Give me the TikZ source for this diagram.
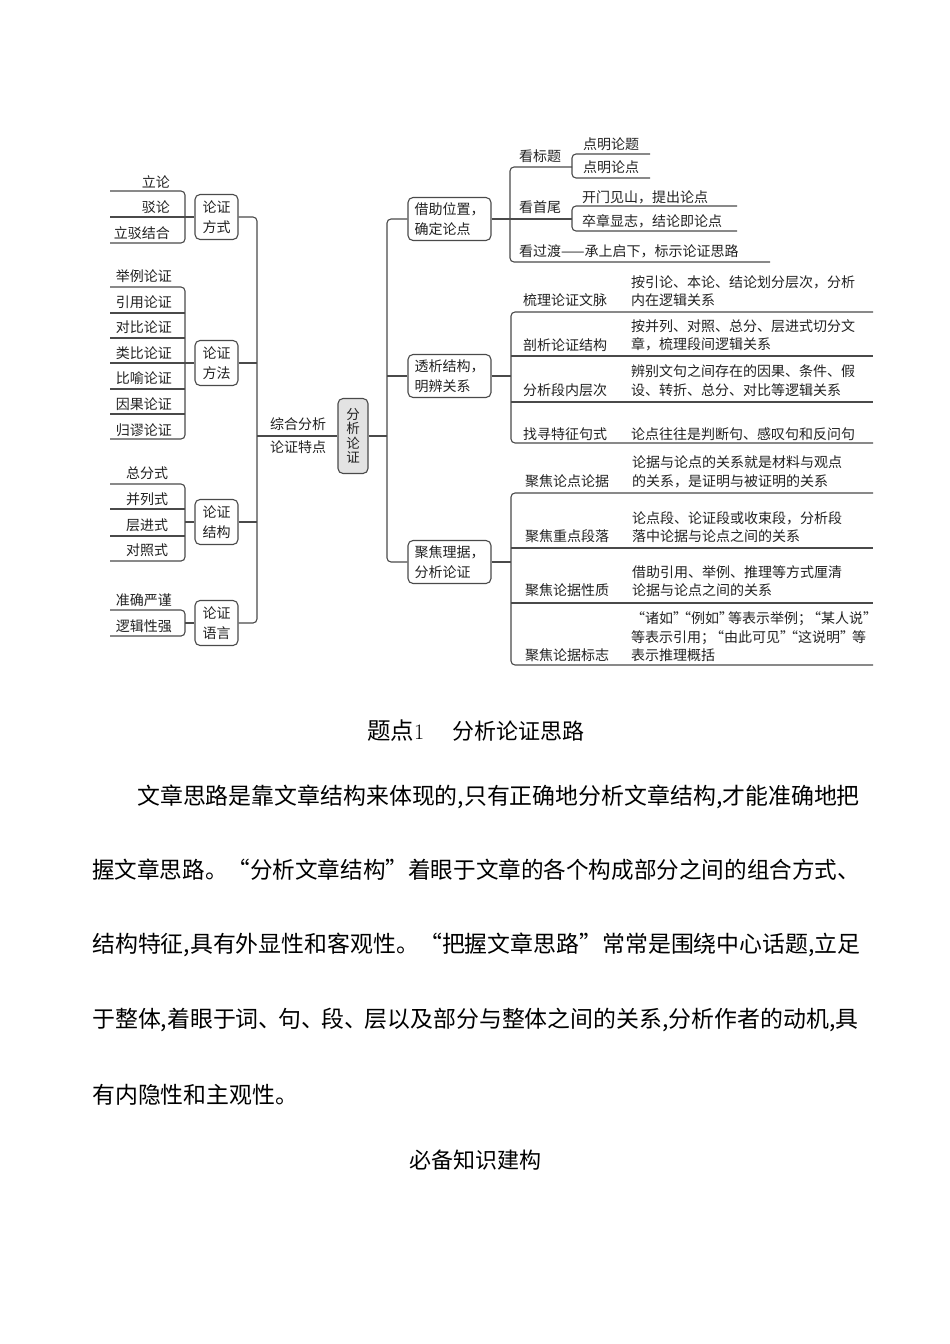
\documentclass[tikz,border=0pt]{standalone}
\usepackage{fontspec}
\usepackage{graphicx}
\newfontfamily\cjk{Noto Sans CJK SC}
\definecolor{lnc}{HTML}{4A4A4A}
\definecolor{txc}{HTML}{222222}
\newcommand\qqL{\makebox[9pt][r]{“}}
\newcommand\qqR{\makebox[9pt][l]{”}}
\newcommand\dunhao{\makebox[20pt][l]{、}}
\tikzset{
  ln/.style={line width=1.1pt, draw=lnc, rounded corners=4pt},
  t/.style={font=\cjk\fontsize{14}{18.6}\selectfont, inner sep=0pt, text=txc, align=left},
  lbox/.style={draw=lnc, line width=1.1pt, rounded corners=5pt, minimum width=43pt, minimum height=45pt, inner sep=0pt, align=center, text=txc, font=\cjk\fontsize{14}{20}\selectfont},
  rbox/.style={draw=lnc, line width=1.1pt, rounded corners=5pt, minimum width=83pt, minimum height=43pt, inner sep=0pt, align=left, text=txc, font=\cjk\fontsize{14}{20}\selectfont},
  body/.style={font=\cjk\fontsize{22.9}{23}\selectfont, inner sep=0pt, anchor=west, text=black},
}
\begin{document}
\begin{tikzpicture}[x=1pt,y=-1pt]
\useasboundingbox[fill=white] (0,0) rectangle (950,1344);

% ---------------- left boxes ----------------
\node[lbox] (A) at (216.5,217) {论证\\方式};
\node[lbox] (B) at (216.5,363) {论证\\方法};
\node[lbox] (C) at (216.5,522) {论证\\结构};
\node[lbox] (D) at (216.5,623) {论证\\语言};

% leaves group A
\node[t,anchor=east] (a1) at (170,182) {立论};
\node[t,anchor=east] (a2) at (170,207) {驳论};
\node[t,anchor=east] (a3) at (170,233) {立驳结合};
\coordinate (a1L) at (110,191); \coordinate (a1R) at (185,191);
\coordinate (a2L) at (110,217);
\coordinate (a3L) at (110,243); \coordinate (a3R) at (185,243);
\draw[ln] (a1L) -- (a1R) -- (a3R) -- (a3L);
\draw[ln] (a2L) -- (A);

% leaves group B
\node[t,anchor=east] (b1) at (172,276) {举例论证};
\node[t,anchor=east] (b2) at (172,302) {引用论证};
\node[t,anchor=east] (b3) at (172,327) {对比论证};
\node[t,anchor=east] (b4) at (172,353) {类比论证};
\node[t,anchor=east] (b5) at (172,378) {比喻论证};
\node[t,anchor=east] (b6) at (172,404) {因果论证};
\node[t,anchor=east] (b7) at (172,430) {归谬论证};
\coordinate (b1L) at (110,287); \coordinate (b1R) at (185,287);
\coordinate (b2L) at (110,313); \coordinate (b2R) at (185,313);
\coordinate (b3L) at (110,338); \coordinate (b3R) at (185,338);
\coordinate (b4L) at (110,363);
\coordinate (b5L) at (110,389); \coordinate (b5R) at (185,389);
\coordinate (b6L) at (110,414); \coordinate (b6R) at (185,414);
\coordinate (b7L) at (110,439); \coordinate (b7R) at (185,439);
\draw[ln] (b1L) -- (b1R) -- (b7R) -- (b7L);
\draw[ln] (b2L) -- (b2R);
\draw[ln] (b3L) -- (b3R);
\draw[ln] (b5L) -- (b5R);
\draw[ln] (b6L) -- (b6R);
\draw[ln] (b4L) -- (B);

% leaves group C
\node[t] (c1) at (147,473) {总分式};
\node[t] (c2) at (147,499) {并列式};
\node[t] (c3) at (147,525) {层进式};
\node[t] (c4) at (147,550) {对照式};
\coordinate (c1L) at (110,484); \coordinate (c1R) at (185,484);
\coordinate (c2L) at (110,509); \coordinate (c2R) at (185,509);
\coordinate (c3L) at (110,536); \coordinate (c3R) at (185,536);
\coordinate (c4L) at (110,561); \coordinate (c4R) at (185,561);
\coordinate (cM) at (185,522);
\draw[ln] (c1L) -- (c1R) -- (c4R) -- (c4L);
\draw[ln] (c2L) -- (c2R);
\draw[ln] (c3L) -- (c3R);
\draw[ln] (cM) -- (C);

% leaves group D
\node[t,anchor=east] (d1) at (172,600) {准确严谨};
\node[t,anchor=east] (d2) at (172,626) {逻辑性强};
\coordinate (d1L) at (110,610); \coordinate (d1R) at (185,610);
\coordinate (d2L) at (110,636); \coordinate (d2R) at (185,636);
\coordinate (dM) at (185,623);
\draw[ln] (d1L) -- (d1R) -- (d2R) -- (d2L);
\draw[ln] (dM) -- (D);

% ---------------- centre ----------------
\node[draw=lnc, fill=black!11, line width=1.1pt, rounded corners=5pt, minimum width=30pt, minimum height=75pt, inner sep=0pt, align=center, text=txc, font=\cjk\fontsize{13.5}{14.5}\selectfont] (M) at (353,436) {分\\析\\论\\证};
\node[t] (m1) at (298,424) {综合分析};
\node[t] (m2) at (298,447) {论证特点};

\coordinate (spA) at (257,217);
\coordinate (spD) at (257,623);
\draw[ln] (A) -- (spA) -- (spD) -- (D);
\draw[ln] (B) -- (B -| spA);
\draw[ln] (C) -- (C -| spA);
\draw[ln] (spA |- M) -- (M);

% ---------------- right boxes ----------------
\node[rbox] (R1) at (449.5,219) {借助位置，\\确定论点};
\node[rbox] (R2) at (449.5,376) {透析结构，\\明辨关系};
\node[rbox] (R3) at (449.5,562) {聚焦理据，\\分析论证};

\coordinate (rsT) at (387,219);
\coordinate (rsB) at (387,562);
\draw[ln] (R1) -- (rsT) -- (rsB) -- (R3);
\draw[ln] (M) -- (M -| rsT);
\draw[ln] (R2) -- (R2 -| rsT);

% --- R1 branches
\node[t,anchor=west] (k1) at (519,156) {看标题};
\node[t,anchor=west] (k2) at (519,207) {看首尾};
\node[t,anchor=west] (k3) at (519,251) {看过渡——承上启下，标示论证思路};
\node[t,anchor=west] (k1a) at (583,144) {点明论题};
\node[t,anchor=west] (k1b) at (583,167) {点明论点};
\node[t,anchor=west] (k2a) at (582,197) {开门见山，提出论点};
\node[t,anchor=west] (k2b) at (582,221) {卒章显志，结论即论点};

\coordinate (q1) at (510,167); \coordinate (q1R) at (572,167);
\coordinate (q3) at (510,262); \coordinate (q3R) at (770,262);
\coordinate (q2R) at (572,219);
\draw[ln] (q1R) -- (q1) -- (q3) -- (q3R);
\draw[ln] (R1) -- (q2R);
\coordinate (g1a) at (650,154); \coordinate (g1aL) at (572,154);
\coordinate (g1b) at (650,178); \coordinate (g1bL) at (572,178);
\draw[ln] (g1a) -- (g1aL) -- (g1bL) -- (g1b);
\coordinate (g2a) at (737,206); \coordinate (g2aL) at (572,206);
\coordinate (g2b) at (737,231); \coordinate (g2bL) at (572,231);
\draw[ln] (g2a) -- (g2aL) -- (g2bL) -- (g2b);

% --- R2 branches
\node[t,anchor=west] (s1) at (523,300) {梳理论证文脉};
\node[t,anchor=west] (s2) at (523,345) {剖析论证结构};
\node[t,anchor=west] (s3) at (523,390) {分析段内层次};
\node[t,anchor=west] (s4) at (523,434) {找寻特征句式};
\node[t,anchor=west] (s1d) at (631,291) {按引论、本论、结论划分层次，分析\\内在逻辑关系};
\node[t,anchor=west] (s2d) at (631,335.5) {按并列、对照、总分、层进式切分文\\章，梳理段间逻辑关系};
\node[t,anchor=west] (s3d) at (631,380.5) {辨别文句之间存在的因果、条件、假\\设、转折、总分、对比等逻辑关系};
\node[t,anchor=west] (s4d) at (631,434) {论点往往是判断句、感叹句和反问句};

\coordinate (u1) at (511,312); \coordinate (u1R) at (873,312);
\coordinate (u2) at (511,356); \coordinate (u2R) at (873,356);
\coordinate (u3) at (511,402); \coordinate (u3R) at (873,402);
\coordinate (u4) at (511,443); \coordinate (u4R) at (873,443);
\draw[ln] (u1R) -- (u1) -- (u4) -- (u4R);
\draw[ln] (u2) -- (u2R);
\draw[ln] (u3) -- (u3R);
\draw[ln] (R2) -- (R2 -| u1);

% --- R3 branches
\node[t,anchor=west] (f1) at (525,481) {聚焦论点论据};
\node[t,anchor=west] (f2) at (525,536) {聚焦重点段落};
\node[t,anchor=west] (f3) at (525,590) {聚焦论据性质};
\node[t,anchor=west] (f4) at (525,655) {聚焦论据标志};
\node[t,anchor=west] (f1d) at (632,472) {论据与论点的关系就是材料与观点\\的关系，是证明与被证明的关系};
\node[t,anchor=west] (f2d) at (632,527) {论点段、论证段或收束段，分析段\\落中论据与论点之间的关系};
\node[t,anchor=west] (f3d) at (632,581) {借助引用、举例、推理等方式厘清\\论据与论点之间的关系};
\node[t,anchor=west] (f4d) at (631,637) {\hspace{5pt}\qqL 诸如\qqR\qqL 例如\qqR 等表示举例；\qqL 某人说\qqR\\等表示引用；\qqL 由此可见\qqR\qqL 这说明\qqR\hspace{3pt}等\\表示推理概括};

\coordinate (v1) at (511,493); \coordinate (v1R) at (873,493);
\coordinate (v2) at (511,548); \coordinate (v2R) at (873,548);
\coordinate (v3) at (511,603); \coordinate (v3R) at (873,603);
\coordinate (v4) at (511,665); \coordinate (v4R) at (873,665);
\draw[ln] (v1R) -- (v1) -- (v4) -- (v4R);
\draw[ln] (v2) -- (v2R);
\draw[ln] (v3) -- (v3R);
\draw[ln] (R3) -- (R3 -| v1);

% ---------------- text below ----------------
\node[inner sep=0pt, anchor=west, font=\fontsize{22}{22}\selectfont] (title) at (367,731) {{\cjk\fontsize{23.5}{23.5}\selectfont 题点}1\hspace{28pt}{\cjk 分析论证思路}};
\node[body] (t1) at (137,797) {文章思路是靠文章结构来体现的,只有正确地分析文章结构,才能准确地把};
\node[body] (t2) at (92,870) {\scalebox{0.986}[1]{握文章思路。“分析文章结构”着眼于文章的各个构成部分之间的组合方式、}};
\node[body] (t3) at (92,945) {结构特征,具有外显性和客观性。“把握文章思路”常常是围绕中心话题,立足};
\node[body] (t4) at (92,1020) {于整体,着眼于词\dunhao 句\dunhao 段\dunhao 层以及部分与整体之间的关系,分析作者的动机,具};
\node[body] (t5) at (92,1095) {有内隐性和主观性。};
\node[inner sep=0pt, font=\cjk\fontsize{22}{22}\selectfont] (sub) at (475,1160) {必备知识建构};
\end{tikzpicture}
\end{document}
